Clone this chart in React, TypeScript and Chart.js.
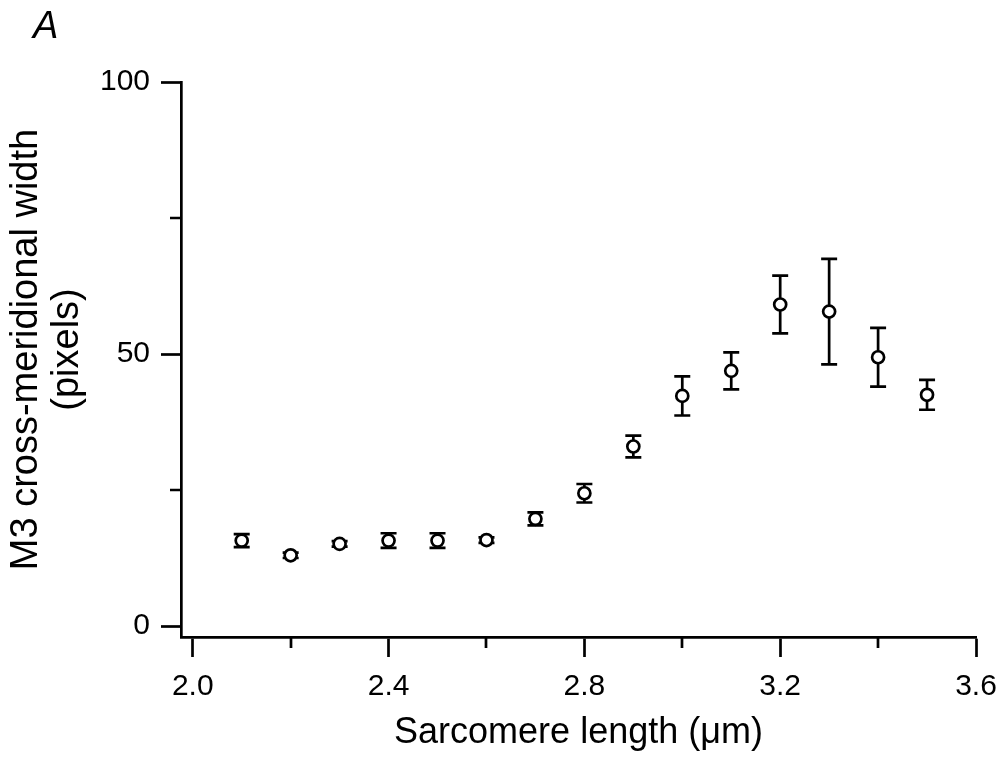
import { useEffect, useRef } from 'react';
import { Chart, registerables } from 'chart.js';

Chart.register(...registerables);

// ---- data ----
const sarcomereLength = [2.1, 2.2, 2.3, 2.4, 2.5, 2.6, 2.7, 2.8, 2.9, 3.0, 3.1, 3.2, 3.3, 3.4, 3.5];
const m3Width = [15.7, 13.0, 15.1, 15.7, 15.7, 15.8, 19.7, 24.4, 33.0, 42.3, 46.9, 59.1, 57.8, 49.4, 42.5];
const m3Error = [1.2, 0.5, 0.5, 1.35, 1.35, 0.5, 1.2, 1.7, 2.0, 3.6, 3.4, 5.3, 9.7, 5.4, 2.75];

const xMajorTicks = [2.0, 2.4, 2.8, 3.2, 3.6];
const xMinorTicks = [2.2, 2.6, 3.0, 3.4];
const yMajorTicks = [0, 50, 100];
const yMinorTicks = [25, 75];

const xTitle = 'Sarcomere length (μm)';
const yTitle = ['M3 cross-meridional width', '(pixels)'];
const panelLabel = 'A';

const FONT = "'Liberation Sans', Arial, Helvetica, sans-serif";
const LINE = 2.7;

const errorBarPlugin = {
  id: 'errorBars',
  beforeDatasetsDraw(chart: any) {
    const { ctx, scales } = chart;
    const xs = scales.x;
    const ys = scales.y;
    ctx.save();
    ctx.strokeStyle = '#000';
    ctx.lineWidth = LINE;
    ctx.lineCap = 'butt';
    const cap = 8;
    sarcomereLength.forEach((xv, i) => {
      const px = xs.getPixelForValue(xv);
      const top = ys.getPixelForValue(m3Width[i] + m3Error[i]);
      const bot = ys.getPixelForValue(m3Width[i] - m3Error[i]);
      ctx.beginPath();
      ctx.moveTo(px, top);
      ctx.lineTo(px, bot);
      ctx.moveTo(px - cap, top);
      ctx.lineTo(px + cap, top);
      ctx.moveTo(px - cap, bot);
      ctx.lineTo(px + cap, bot);
      ctx.stroke();
    });
    ctx.restore();
  },
  afterDraw(chart: any) {
    const { ctx, scales, chartArea } = chart;
    const xs = scales.x;
    const ys = scales.y;
    ctx.save();
    ctx.strokeStyle = '#000';
    ctx.lineWidth = LINE;
    const minorLen = 11;
    ctx.beginPath();
    xMinorTicks.forEach((v) => {
      const px = Math.round(xs.getPixelForValue(v));
      ctx.moveTo(px, chartArea.bottom);
      ctx.lineTo(px, chartArea.bottom + minorLen);
    });
    yMinorTicks.forEach((v) => {
      const py = Math.round(ys.getPixelForValue(v));
      ctx.moveTo(chartArea.left, py);
      ctx.lineTo(chartArea.left - minorLen, py);
    });
    ctx.stroke();
    ctx.fillStyle = '#000';
    // panel label
    ctx.font = `italic 38px ${FONT}`;
    ctx.textAlign = 'left';
    ctx.textBaseline = 'alphabetic';
    ctx.fillText(panelLabel, 33, 38);
    // y-axis title (two rotated lines)
    ctx.font = `38px ${FONT}`;
    ctx.textAlign = 'center';
    const cy = (chartArea.top + chartArea.bottom) / 2 - 10;
    const baselines = [37, 78];
    yTitle.forEach((line, i) => {
      ctx.save();
      ctx.translate(baselines[i], cy);
      ctx.rotate(-Math.PI / 2);
      ctx.fillText(line, 0, 0);
      ctx.restore();
    });
    ctx.restore();
  },
};

export default function App() {
  const ref = useRef<HTMLCanvasElement | null>(null);

  useEffect(() => {
    if (!ref.current) return;
    const chart = new Chart(ref.current, {
      type: 'scatter',
      data: {
        datasets: [
          {
            label: 'M3 width',
            data: sarcomereLength.map((x, i) => ({ x, y: m3Width[i] })),
            pointRadius: 6.0,
            pointHoverRadius: 6.0,
            pointBorderWidth: LINE,
            pointBackgroundColor: '#fff',
            pointBorderColor: '#000',
            showLine: false,
          },
        ],
      },
      plugins: [errorBarPlugin],
      options: {
        responsive: false,
        animation: false,
        events: [],
        layout: { padding: { left: 0, top: 82, right: 26, bottom: 0 } },
        plugins: {
          legend: { display: false },
          tooltip: { enabled: false },
          title: { display: false },
        },
        scales: {
          x: {
            type: 'linear',
            position: 'bottom',
            min: 1.976,
            max: 3.6,
            afterBuildTicks: (s: any) => {
              s.ticks = xMajorTicks.map((v) => ({ value: v }));
            },
            afterFit: (s: any) => {
              s.height = 120;
              s.paddingLeft = 0;
              s.paddingRight = 0;
            },
            ticks: {
              autoSkip: false,
              maxRotation: 0,
              padding: 12,
              color: '#000',
              font: { family: FONT, size: 30 },
              callback: (v: any) => Number(v).toFixed(1),
            },
            grid: {
              display: true,
              drawOnChartArea: false,
              drawTicks: true,
              tickLength: 20,
              tickWidth: LINE,
              tickColor: '#000',
            },
            border: { display: true, color: '#000', width: LINE },
            title: {
              display: true,
              text: xTitle,
              color: '#000',
              font: { family: FONT, size: 36 },
              padding: { top: 0, bottom: 2 },
            },
          },
          y: {
            type: 'linear',
            position: 'left',
            min: -2.02,
            max: 100,
            afterBuildTicks: (s: any) => {
              s.ticks = yMajorTicks.map((v) => ({ value: v }));
            },
            afterFit: (s: any) => {
              s.width = 181;
              s.paddingTop = 0;
              s.paddingBottom = 0;
            },
            ticks: {
              autoSkip: false,
              padding: 11,
              color: '#000',
              font: { family: FONT, size: 30 },
              callback: (v: any) => String(v),
            },
            grid: {
              display: true,
              drawOnChartArea: false,
              drawTicks: true,
              tickLength: 20,
              tickWidth: LINE,
              tickColor: '#000',
            },
            border: { display: true, color: '#000', width: LINE },
            title: { display: false },
          },
        },
      },
    });
    return () => chart.destroy();
  }, []);

  return (
    <div style={{ position: 'absolute', left: 0, top: 0, width: 1002, height: 757 }}>
      <canvas ref={ref} width={1002} height={757} style={{ display: 'block' }} />
    </div>
  );
}
